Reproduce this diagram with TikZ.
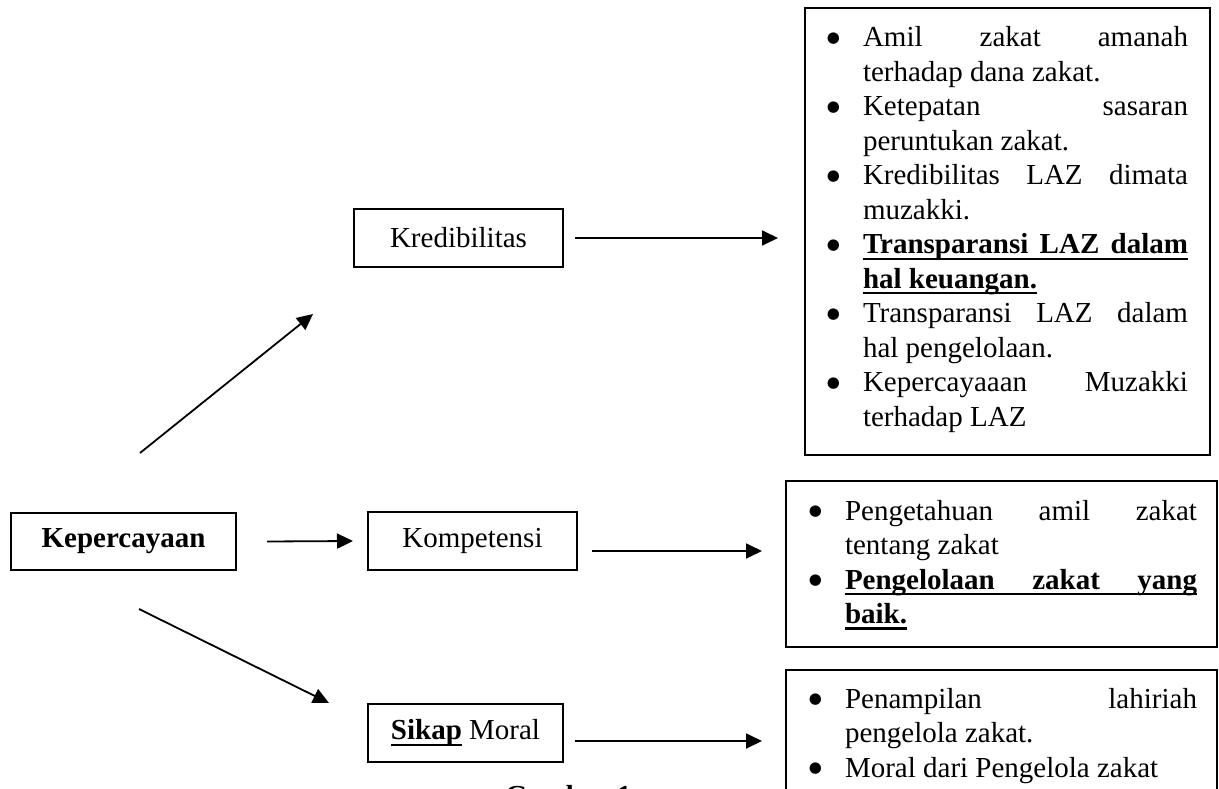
\documentclass[tikz,border=0pt]{standalone}
\usepackage{fontspec}
\setmainfont{Liberation Serif}
\newfontfamily\bulfont{DejaVu Sans}
\usetikzlibrary{arrows.meta,calc}
\newlength\lw
\newcommand\myul[1]{\setbox0=\hbox{#1}\rlap{\rule[-6pt]{\wd0}{2.4pt}}\box0}
\newcommand\Jl[1]{\hbox to \lw{#1}}
\newcommand\Ll[1]{\hbox to \lw{#1\hfil}}
\newcommand\bul{\llap{\raisebox{4.5pt}{\bulfont\fontsize{15}{15}\selectfont ●}\hspace{23pt}}}
\newcommand\stk[2]{\vtop{\lw=#1\relax\baselineskip=34.5pt\lineskiplimit=-100pt\lineskip=0pt #2}}
\tikzset{
  box/.style={draw, line width=1.5pt, inner sep=0pt, outer sep=0pt, anchor=north west, align=center},
  txt/.style={inner sep=0pt, outer sep=0pt, anchor=base west},
  arr/.style={line width=1.8pt, -{Triangle[length=16pt,width=15pt]}}
}
\begin{document}
\begin{tikzpicture}[x=1pt,y=-1pt,font=\fontsize{29}{34.5}\selectfont]
\useasboundingbox (0,0) rectangle (1219,789);
\clip (0,0) rectangle (1219,789);
% left column
\node[box, minimum width=225pt, minimum height=57pt] (kep) at (11,513) {\bfseries Kepercayaan};
\node[box, minimum width=209pt, minimum height=58pt] (kred) at (354,209) {Kredibilitas};
\node[box, minimum width=209pt, minimum height=58pt] (kom) at (368,512) {Kompetensi};
\node[box, minimum width=195pt, minimum height=58pt] (sik) at (368,704) {\bfseries\myul{Sikap}\mdseries{} Moral};
% right boxes
\node[box, minimum width=405pt, minimum height=447pt] (list1) at (805,8) {};
\node[box, minimum width=431pt, minimum height=166pt] (list2) at (786,481) {};
\node[box, minimum width=431pt, minimum height=150pt] (list3) at (786,670) {};
% list texts
\node[txt] (t1) at (863,47) {\stk{325pt}{%
\Jl{\bul Amil\hfill zakat\hfill amanah}
\Ll{terhadap dana zakat.}
\Jl{\bul Ketepatan\hfill sasaran}
\Ll{peruntukan zakat.}
\Jl{\bul Kredibilitas\hfill LAZ\hfill dimata}
\Ll{muzakki.}
\Jl{\bul\bfseries\myul{\hbox to \lw{Transparansi\hfill LAZ\hfill dalam}}}
\Ll{\bfseries\myul{hal keuangan.}}
\Jl{\bul Transparansi\hfill LAZ\hfill dalam}
\Ll{hal pengelolaan.}
\Jl{\bul Kepercayaaan\hfill Muzakki}
\Ll{terhadap LAZ}}};
\node[txt] (t2) at (845,520) {\stk{352pt}{%
\Jl{\bul Pengetahuan\hfill amil\hfill zakat}
\Ll{tentang zakat}
\Jl{\bul\bfseries\myul{\hbox to \lw{Pengelolaan\hfill zakat\hfill yang}}}
\Ll{\bfseries\myul{baik.}}}};
\node[txt] (t3) at (845,708) {\stk{352pt}{%
\Jl{\bul Penampilan\hfill lahiriah}
\Ll{pengelola zakat.}
\Ll{\bul Moral dari Pengelola zakat}}};
% caption (cut off)
\node[txt] (cap) at (505,805) {\bfseries Gambar 1};
% connectors
\draw[arr] ([xshift=31pt]kep.east) -- ([xshift=-15pt]kom.west);
\draw[arr] ([shift={(16.5pt,60pt)}]kep.north) -- ([shift={(-41pt,-47pt)}]kred.south west);
\draw[arr] ([shift={(15.5pt,-39pt)}]kep.south) -- ([shift={(-39pt,1pt)}]sik.north west);
\draw[arr] ([xshift=12pt]kred.east) -- ($(list1.west |- kred.east)+(-27pt,0pt)$);
\draw[arr] ($(kom.east)+(15pt,-10pt)$) -- ($(list2.west |- kom.east)+(-24pt,-10pt)$);
\draw[arr] ($(sik.east)+(12pt,-8pt)$) -- ($(list3.west |- sik.east)+(-24pt,-8pt)$);
\end{tikzpicture}
\end{document}
